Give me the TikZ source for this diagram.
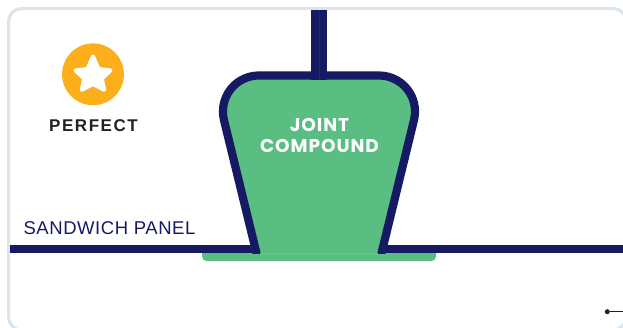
\documentclass[tikz,border=0pt]{standalone}
\usepackage{fontspec}
\setmainfont{Liberation Sans}
\newfontfamily\headfont[LetterSpace=5]{Poppins Bold}
\newfontfamily\perfectfont[LetterSpace=9]{Liberation Sans Bold}
\newfontfamily\panelfont[LetterSpace=3]{Liberation Sans}
\definecolor{navy}{HTML}{161A63}
\definecolor{jgreen}{HTML}{5ABE82}
\definecolor{seamgreen}{HTML}{6AC48F}
\definecolor{seamnavy}{HTML}{23276E}
\definecolor{framec}{HTML}{DCE4EC}
\definecolor{starc}{HTML}{FDAE1B}
\definecolor{inkc}{HTML}{222222}
\tikzset{
  plate/.style={fill=navy,draw=none},
  lbl/.style={inner sep=0pt,anchor=base},
}
\begin{document}
\begin{tikzpicture}[x=1pt,y=-1pt]
\useasboundingbox (0,0) rectangle (623,327);
\fill[white] (0,0) rectangle (623,327);
% frame
\begin{scope}
\clip (0,0) rectangle (623,327);
\draw[framec,line width=3pt,rounded corners=13pt] (8.5,8.5) rectangle (626,330);
\end{scope}
% green base plate
\fill[jgreen,rounded corners=4.5pt] (202,245) -- (202,261) -- (436,261) -- (436,245) -- cycle;
% panels
\fill[plate] (10,245) rectangle (256,253.3);
\fill[plate] (382,245) rectangle (623,253.3);
% joint compound
\fill[jgreen] (256.5,253.3) -- (224,120.2) arc[start angle=166,end angle=270,radius=36] -- (379,75.5) arc[start angle=270,end angle=374,radius=36] -- (381.5,253.3) -- cycle;
\begin{scope}
\clip (200,0) rectangle (440,253.3);
\draw[navy,line width=8.2pt] (257.7,258) -- (224,120.2) arc[start angle=166,end angle=270,radius=36] -- (379,75.5) arc[start angle=270,end angle=374,radius=36] -- (380.3,258);
\end{scope}
\fill[seamgreen] (260,253) rectangle (378,253.7);
% stud
\fill[plate] (311.3,10) rectangle (327,79.5);
\fill[seamnavy] (318.9,10) rectangle (319.3,79.5);
% badge
\fill[starc] (93,74.3) circle (30.9);
\fill[white,draw=white,line width=4pt,line join=round]
  (93,56.5) -- (98.6,69) -- (110.5,70.4) -- (101.8,78.6) -- (104.2,89.8) -- (93,84) -- (81.8,89.8) -- (84.2,78.6) -- (75.5,70.4) -- (87.4,69) -- cycle;
\node[lbl,text=inkc,font=\perfectfont\fontsize{17}{17}\selectfont] (perfect) at (93.5,131) {PERFECT};
\node[lbl,text=white,font=\headfont\fontsize{18.5}{18.5}\selectfont] (joint) at (319.5,131) {JOINT};
\node[lbl,text=white,font=\headfont\fontsize{18.5}{18.5}\selectfont] (compound) at (319.5,152) {COMPOUND};
\node[lbl,text=navy,font=\panelfont\fontsize{18.5}{18.5}\selectfont] (sandwich) at (109.5,234) {SANDWICH PANEL};
% dot
\coordinate (edge) at (623,311.7);
\node[circle,fill=inkc,inner sep=0pt,minimum size=5pt] (dot) at (607.3,311.7) {};
\draw[inkc,line width=1pt] (dot) -- (edge);
\end{tikzpicture}
\end{document}
